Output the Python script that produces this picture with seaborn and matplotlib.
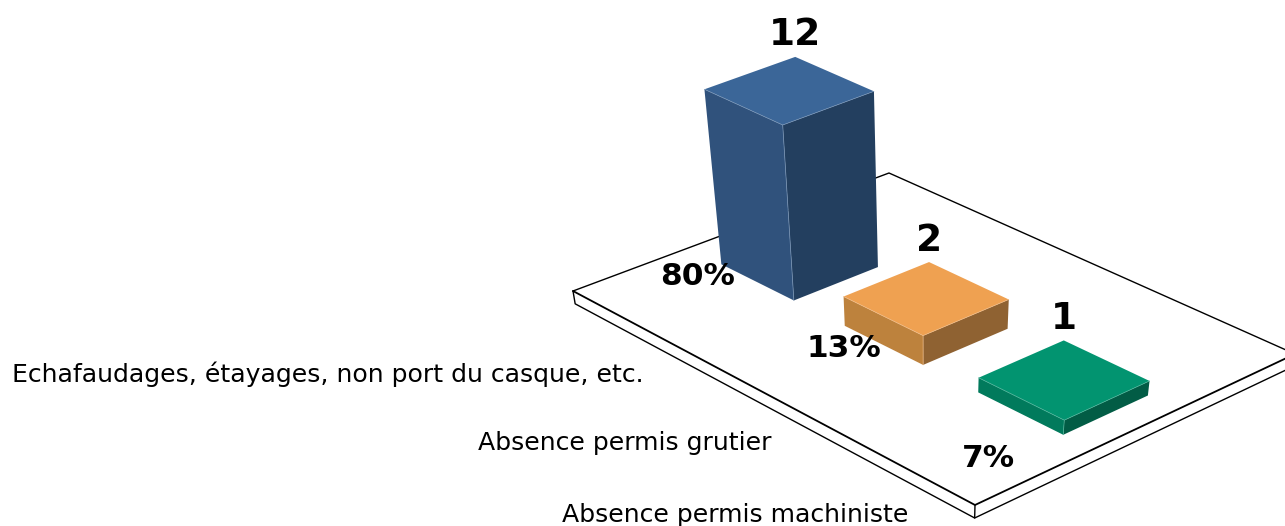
import numpy as np
import matplotlib
matplotlib.use("Agg")
import matplotlib.pyplot as plt
import seaborn as sns

# Chart values
categories = ["Echafaudages, étayages, non port du casque, etc.",
              "Absence permis grutier",
              "Absence permis machiniste"]
counts = [12, 2, 1]
percents = ["80%", "13%", "7%"]

# Bar colours: top, left face, right face
top_colors = ["#3B6698", "#EFA151", "#029470"]
left_colors = ["#30527C", "#BD823D", "#017A5C"]
right_colors = ["#233F5F", "#8F6232", "#025C45"]

# Label positions in picture pixels
category_pos = [(12, 382), (478, 450), (562, 522)]
percent_pos = [(698, 285), (844, 357), (988.5, 467)]

# Floor corners on the picture: left, front, right, back
floor_corners = np.array([[573, 291], [975, 505], [1295, 354], [889, 173]], float)
floor_depth = 13
unit_height = 14.65
vanish = np.array([926.0, 2380.0])
bar_start = 0.188
bar_step = 0.325
bar_width = 0.194
bar_v = (0.347, 0.611)


# Homography from the unit floor square to the picture
def floor_matrix(corners):
    src = [(0, 0), (1, 0), (1, 1), (0, 1)]
    rows = []
    rhs = []
    for (u, v), (x, y) in zip(src, corners):
        rows.append([u, v, 1, 0, 0, 0, -u * x, -v * x])
        rows.append([0, 0, 0, u, v, 1, -u * y, -v * y])
        rhs += [x, y]
    return np.append(np.linalg.solve(np.array(rows), np.array(rhs)), 1).reshape(3, 3)


H = floor_matrix(floor_corners)


# Project a floor point (u, v) raised by a count w
def project(u, v, w=0):
    p = H @ np.array([u, v, 1.0])
    base = p[:2] / p[2]
    up = base - vanish
    return base + up / np.linalg.norm(up) * w * unit_height


# Move a floor corner down along the same converging verticals
def drop(point):
    down = vanish - point
    return point + down / np.linalg.norm(down) * floor_depth


def draw_floor(ax):
    left, front, right, back = floor_corners
    ax.fill(*floor_corners.T, color="white", zorder=1)
    ax.plot(*np.array([left, back, right]).T, color="black", lw=1.0, zorder=2)
    ax.plot(*np.array([right, front, left]).T, color="black", lw=1.3, zorder=2)
    ax.plot(*np.array([left, drop(left), drop(front), drop(right)]).T, color="black", lw=1.0, zorder=2)
    ax.plot(*np.array([front, drop(front)]).T, color="black", lw=1.0, zorder=2)


def draw_bar(ax, i):
    centre = bar_start + bar_step * i
    u0, u1 = centre - bar_width / 2, centre + bar_width / 2
    v0, v1 = bar_v
    h = counts[i]
    left_b, front_b, right_b = project(u0, v0), project(u1, v0), project(u1, v1)
    left_t, front_t, right_t = project(u0, v0, h), project(u1, v0, h), project(u1, v1, h)
    back_t = project(u0, v1, h)
    z = 3 + i
    ax.fill(*np.array([left_t, front_t, front_b, left_b]).T, color=left_colors[i], lw=0, zorder=z)
    ax.fill(*np.array([front_t, right_t, right_b, front_b]).T, color=right_colors[i], lw=0, zorder=z)
    ax.fill(*np.array([left_t, front_t, right_t, back_t]).T, color=top_colors[i], lw=0, zorder=z)
    # Thin light edges between the faces
    edge = sns.light_palette(top_colors[i], n_colors=4)[2]
    ax.plot(*np.array([left_t, front_t, right_t]).T, color=edge, lw=0.5, zorder=z)
    ax.plot(*np.array([front_t, front_b]).T, color=edge, lw=0.5, zorder=z)
    ax.text(back_t[0], back_t[1] - 11.5, str(h), fontsize=27, fontweight="bold", color="black",
            ha="center", va="baseline", zorder=10)


def main():
    sns.set_theme(style="white")
    plt.rcParams["font.family"] = ["DejaVu Sans"]
    fig = plt.figure(figsize=(12.85, 5.26), dpi=100)
    ax = fig.add_axes([0, 0, 1, 1])
    ax.set_xlim(0, 1285)
    ax.set_ylim(526, 0)
    ax.axis("off")

    draw_floor(ax)
    for i in range(len(counts)):
        draw_bar(ax, i)

    for label, (x, y) in zip(categories, category_pos):
        ax.text(x, y, label, fontsize=18.05, color="black", ha="left", va="baseline", zorder=10)
    for label, (x, y) in zip(percents, percent_pos):
        ax.text(x, y, label, fontsize=22.5, fontweight="bold", color="black", ha="center", va="baseline", zorder=10)

    fig.savefig("out.png", dpi=100, facecolor="white")


if __name__ == "__main__":
    main()
